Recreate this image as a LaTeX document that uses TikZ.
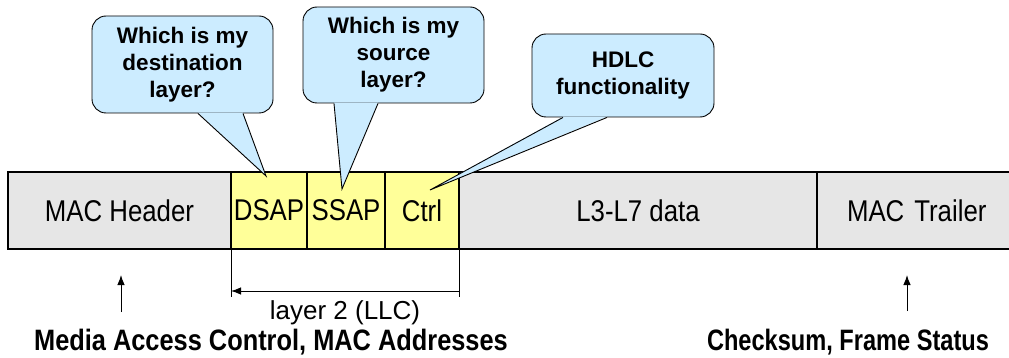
\documentclass[tikz,border=0pt]{standalone}
\usepackage{fontspec}
\setmainfont{Liberation Sans}
\newfontfamily\narrowfont[FakeStretch=0.86]{Liberation Sans}
\newfontfamily\tightfont[FakeStretch=0.8]{Liberation Sans}
\usetikzlibrary{positioning,calc,arrows.meta}

\begin{document}
\begin{tikzpicture}[x=1pt,y=-1pt,
    field/.style={draw, line width=1.2pt, minimum height=77pt, inner sep=0pt, outer sep=0pt,
        font=\narrowfont\fontsize{30}{32}\selectfont},
    bubble/.style={draw, line width=0.9pt, fill=bubblecolor, rounded corners=14pt, align=center,
        inner sep=0pt, font=\bfseries\fontsize{22.5}{27}\selectfont},
    info/.style={font=\bfseries\fontsize{29.5}{31}\selectfont},
    tip/.style={-{Latex[length=10pt,width=7.5pt]}, line width=1pt}]
    % Define colors
    \definecolor{headercolor}{RGB}{230,230,230}
    \definecolor{llccolor}{RGB}{255,255,153}
    \definecolor{bubblecolor}{RGB}{204,236,255}

    \useasboundingbox (0,0) rectangle (1009,358);

    % Frame fields
    \node[field, fill=headercolor, minimum width=223pt, anchor=north west] (mac) at (8,172) {MAC Header};
    \node[field, fill=llccolor, minimum width=76pt, right=0pt of mac] (dsap) {DSAP};
    \node[field, fill=llccolor, minimum width=78pt, right=0pt of dsap] (ssap) {SSAP};
    \node[field, fill=llccolor, minimum width=74pt, right=0pt of ssap] (ctrl) {Ctrl};
    \node[field, fill=headercolor, minimum width=358pt, right=0pt of ctrl] (data) {L3-L7 data};
    \node[field, fill=headercolor, minimum width=200pt, right=0pt of data, text width=200pt, align=left] (trailer) {\hspace{30pt}MAC Trailer};

    % Callouts
    \node[bubble, minimum width=181pt, minimum height=97pt] (askdst) at (182.5,64.5) {Which is my\\destination\\layer?};
    \node[bubble, minimum width=181pt, minimum height=96pt] (asksrc) at (393.5,55) {Which is my\\source\\layer?};
    \node[bubble, minimum width=182pt, minimum height=83pt] (askctrl) at (623,75.5) {HDLC\\functionality};

    % Callout pointers
    \coordinate (dsttip) at ($(dsap.north)+(-3,4)$);
    \coordinate (srctip) at ($(ssap.north)+(-4,17)$);
    \coordinate (ctrltip) at ($(ctrl.north)+(8,18)$);
    \fill[bubblecolor] ([xshift=15.5pt,yshift=0.8pt]askdst.south) -- (dsttip) -- ([xshift=60.5pt,yshift=0.8pt]askdst.south) -- cycle;
    \draw[line width=0.9pt] ([xshift=15.5pt]askdst.south) -- (dsttip) -- ([xshift=60.5pt]askdst.south);
    \fill[bubblecolor] ([xshift=-59.5pt,yshift=0.8pt]asksrc.south) -- (srctip) -- ([xshift=-15.5pt,yshift=0.8pt]asksrc.south) -- cycle;
    \draw[line width=0.9pt] ([xshift=-59.5pt]asksrc.south) -- (srctip) -- ([xshift=-15.5pt]asksrc.south);
    \fill[bubblecolor] ([xshift=-60pt,yshift=0.8pt]askctrl.south) -- (ctrltip) -- ([xshift=-16pt,yshift=0.8pt]askctrl.south) -- cycle;
    \draw[line width=0.9pt] ([xshift=-60pt]askctrl.south) -- (ctrltip) -- ([xshift=-16pt]askctrl.south);

    % LLC span
    \coordinate (llcleft) at ($(dsap.south west)+(0,48)$);
    \coordinate (llcright) at ($(ctrl.south east)+(0,48)$);
    \coordinate (llcarrowl) at ($(dsap.south west)+(0,42)$);
    \coordinate (llcarrowr) at ($(ctrl.south east)+(0,42)$);
    \draw[line width=1pt] (dsap.south west) -- (llcleft);
    \draw[line width=1pt] (ctrl.south east) -- (llcright);
    \draw[tip, {Latex[length=10pt,width=7.5pt]}-] (llcarrowl) -- (llcarrowr);
    \node (llclabel) at ($(llcleft)!0.5!(llcright)+(0,16)$) {\fontsize{26}{28}\selectfont layer 2 (LLC)};

    % Bottom notes
    \node[info] (macinfo) at (271,342) {\narrowfont Media Access Control, MAC Addresses};
    \node[info] (trailerinfo) at (848,342) {\tightfont Checksum, Frame Status};
    \coordinate (macarrow) at (121,275);
    \coordinate (trailerarrow) at (907,275);
    \draw[tip] ($(macarrow)+(0,37)$) -- (macarrow);
    \draw[tip] ($(trailerarrow)+(0,36)$) -- (trailerarrow);
\end{tikzpicture}
\end{document}
